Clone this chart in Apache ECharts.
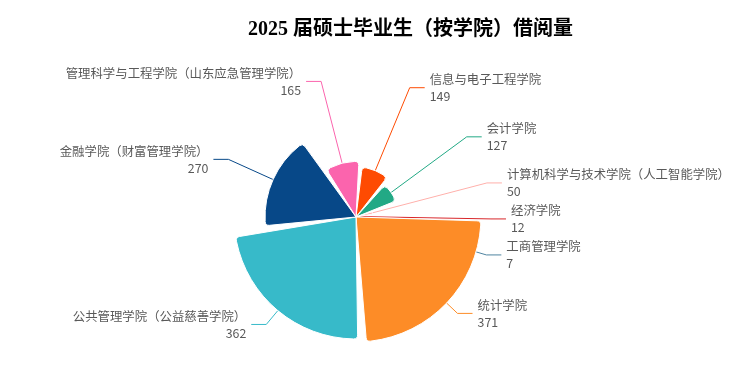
<!DOCTYPE html>
<html>
<head>
<meta charset="utf-8">
<script src="https://cdn.jsdelivr.net/npm/echarts@6/dist/echarts.min.js"></script>
<style>html,body{margin:0;padding:0;background:#fff}#c{width:751px;height:383px}</style>
</head>
<body>
<div id="c"></div>
<script>
const titleText = '2025 届硕士毕业生（按学院）借阅量';
const categories = ['信息与电子工程学院', '会计学院', '计算机科学与技术学院（人工智能学院）', '经济学院', '工商管理学院', '统计学院', '公共管理学院（公益慈善学院）', '金融学院（财富管理学院）', '管理科学与工程学院（山东应急管理学院）'];
const values = [149, 127, 50, 12, 7, 371, 362, 270, 165];
const colors = ['#fe4b02', '#22a985', '#ffb0ab', '#d8262a', '#4f84a0', '#fd8c27', '#37bac9', '#074888', '#fb64ad'];

const chart = echarts.init(document.getElementById('c'));
chart.setOption({
  animation: false,
  title: {
    text: titleText,
    left: 243, top: 15,
    textStyle: { fontFamily: 'Liberation Serif, Noto Sans CJK SC', fontWeight: 'bold', fontSize: 20, color: '#000' }
  },
  series: [{
    type: 'pie',
    roseType: 'radius',
    center: [356, 217],
    radius: [0, 125],
    startAngle: 85,
    padAngle: 4,
    itemStyle: { borderColor: '#fff', borderWidth: 1, borderRadius: 4 },
    label: {
      formatter: '{b}\n{c}',
      fontFamily: 'Noto Sans CJK SC',
      fontSize: 12.4,
      color: '#595959',
      lineHeight: 17
    },
    labelLine: { length: 15, length2: 15, smooth: false },
    data: categories.map((n, i) => ({ name: n, value: values[i], itemStyle: { color: colors[i] } }))
  }]
});
</script>
</body>
</html>
